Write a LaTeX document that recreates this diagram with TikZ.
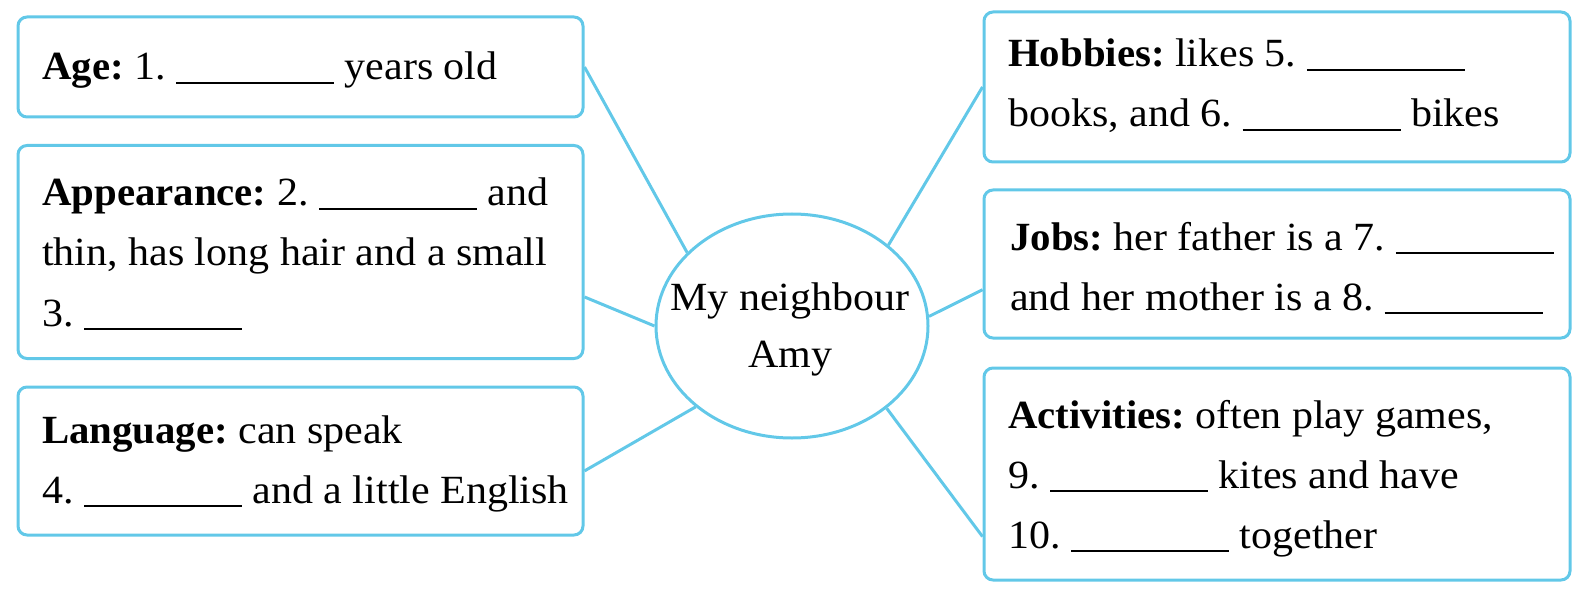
\documentclass[tikz,border=0pt]{standalone}
\usepackage{fontspec}
\setmainfont[FakeStretch=1.05, BoldFeatures={FakeStretch=1.02}]{Liberation Serif}
\usetikzlibrary{shapes.geometric}
\definecolor{mapblue}{RGB}{98,200,232}
\frenchspacing
\newcommand{\gapline}{\rule[-4pt]{158pt}{2pt}}
\newcommand{\leftrows}[1]{\vtop{\baselineskip=60pt\halign{##\hfil\cr#1\crcr}}}
\newcommand{\midrows}[1]{\vtop{\baselineskip=57pt\halign{\hfil##\hfil\cr#1\crcr}}}
\tikzset{
  infobox/.style={draw=mapblue, line width=3pt, rounded corners=9pt, inner sep=0pt},
  infotext/.style={anchor=base west, inner sep=0pt, font=\fontsize{40}{60}\selectfont},
  hub/.style={ellipse, draw=mapblue, line width=3pt, inner sep=0pt},
  link/.style={draw=mapblue, line width=3pt}
}
\begin{document}
\begin{tikzpicture}[x=1pt,y=-1pt]
\useasboundingbox (0,0) rectangle (1587,596);
\node[hub, minimum width=272pt, minimum height=224pt] (amy) at (792,326) {};
\node[infotext, anchor=base] (amytext) at (790,310) {\midrows{My neighbour\cr Amy}};
% left side
\node[infobox, minimum width=565pt, minimum height=100pt] (age) at (300.5,67) {};
\node[infobox, minimum width=565pt, minimum height=213pt] (look) at (300.5,252) {};
\node[infobox, minimum width=565pt, minimum height=148pt] (lang) at (300.5,461) {};
\node[infotext] (agetext) at (42,80) {\textbf{Age:} 1. \gapline{} years old};
\node[infotext] (looktext) at (42,206) {\leftrows{\textbf{Appearance:} 2. \gapline{} and\cr thin, has long hair and a small\cr 3. \gapline}};
\node[infotext] (langtext) at (42,443) {\leftrows{\textbf{Language:} can speak\cr 4. \gapline{} and a little English}};
% right side
\node[infobox, minimum width=586pt, minimum height=150pt] (hobby) at (1277,87) {};
\node[infobox, minimum width=586pt, minimum height=148pt] (job) at (1277,264) {};
\node[infobox, minimum width=586pt, minimum height=212pt] (act) at (1277,474) {};
\node[infotext] (hobbytext) at (1008,67) {\leftrows{\textbf{Hobbies:} likes 5. \gapline\cr books, and 6. \gapline{} bikes}};
\node[infotext] (jobtext) at (1010,250) {\leftrows{\textbf{Jobs:} her father is a 7. \gapline\cr and her mother is a 8. \gapline}};
\node[infotext] (acttext) at (1008,428) {\leftrows{\textbf{Activities:} often play games,\cr 9. \gapline{} kites and have\cr 10. \gapline{} together}};
% links
\draw[link] (age.east) -- (amy.145);
\draw[link] (look.-9.3) -- (amy.180);
\draw[link] (lang.-2.4) -- (amy.220);
\draw[link] (hobby.west) -- (amy.40);
\draw[link] (job.185) -- (amy.4);
\draw[link] (act.192.7) -- (amy.-41);
\end{tikzpicture}
\end{document}
